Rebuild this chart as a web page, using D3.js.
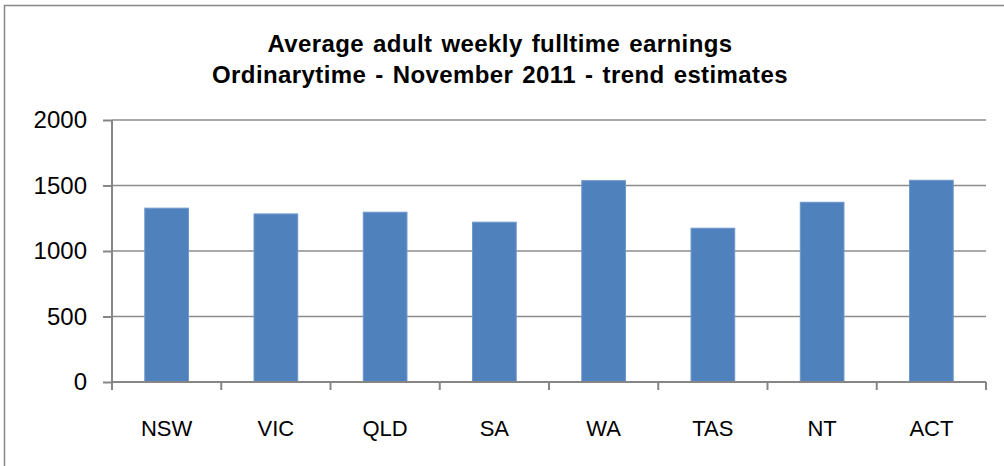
<!DOCTYPE html>
<meta charset="utf-8">
<style>
body { margin: 0; background: #fff; }
.title { font: bold 24px "Liberation Sans", Arial, sans-serif; fill: #000; letter-spacing: 0.4px; word-spacing: 2px; }
.axis text { font: 24px "Liberation Sans", Arial, sans-serif; fill: #000; }
.grid line { stroke: #8c8c8c; stroke-width: 1.5px; }
.axis path, .axis line { stroke: #868686; stroke-width: 2px; }
.bar { fill: #4f81bd; stroke: #6e98cb; stroke-width: 1px; }
</style>
<svg width="1004" height="466"></svg>
<script src="https://cdn.jsdelivr.net/npm/d3@7"></script>
<script>

var states = ["NSW", "VIC", "QLD", "SA", "WA", "TAS", "NT", "ACT"];
var earnings = [1327, 1283, 1296, 1220, 1537, 1174, 1372, 1540];
var yTicks = [0, 500, 1000, 1500, 2000];
var titleLines = ["Average adult weekly fulltime earnings",
                  "Ordinarytime - November 2011 - trend estimates"];

var svg = d3.select("svg");

// outer chart frame (right and bottom edges fall outside the picture)
svg.append("rect")
    .attr("x", 4.5).attr("y", 5.5)
    .attr("width", 1010).attr("height", 470)
    .attr("fill", "none")
    .attr("stroke", "#868686")
    .attr("stroke-width", 1.5);

var plotLeft = 112, plotRight = 986, plotTop = 120, plotBottom = 382;

var x = d3.scaleBand()
    .domain(states)
    .range([plotLeft, plotRight])
    .paddingInner(0.6)
    .paddingOuter(0.3);

var y = d3.scaleLinear()
    .domain([0, 2000])
    .range([plotBottom, plotTop]);

svg.append("g")
    .attr("class", "grid")
    .selectAll("line")
    .data(yTicks.slice(1))
    .enter().append("line")
      .attr("x1", plotLeft).attr("x2", plotRight)
      .attr("y1", function(d) { return y(d); })
      .attr("y2", function(d) { return y(d); });

svg.selectAll(".bar")
    .data(earnings)
    .enter().append("rect")
      .attr("class", "bar")
      .attr("x", function(d, i) { return x(states[i]); })
      .attr("width", x.bandwidth())
      .attr("y", function(d) { return y(d); })
      .attr("height", function(d) { return y(0) - y(d); });

var yAxis = svg.append("g")
    .attr("class", "axis")
    .attr("transform", "translate(" + plotLeft + ",0)")
    .call(d3.axisLeft(y).tickValues(yTicks).tickFormat(d3.format("d"))
      .tickSize(9).tickSizeOuter(0).tickPadding(16));
yAxis.select(".domain").attr("d", "M0," + plotTop + "V" + plotBottom);

// x axis: ticks sit on the category boundaries, labels centred on the bars
var xAxis = svg.append("g")
    .attr("class", "axis")
    .attr("transform", "translate(0," + plotBottom + ")");
xAxis.append("path")
    .attr("d", "M" + plotLeft + ",0H" + plotRight);
xAxis.selectAll("line")
    .data(d3.range(states.length + 1))
    .enter().append("line")
      .attr("x1", function(i) { return plotLeft + i * x.step(); })
      .attr("x2", function(i) { return plotLeft + i * x.step(); })
      .attr("y1", 0).attr("y2", 8);
xAxis.selectAll("text")
    .data(states)
    .enter().append("text")
      .attr("x", function(d) { return x(d) + x.bandwidth() / 2; })
      .attr("y", 54)
      .attr("text-anchor", "middle")
      .style("font-size", "22px")
      .text(function(d) { return d; });

svg.selectAll(".title")
    .data(titleLines)
    .enter().append("text")
      .attr("class", "title")
      .attr("x", 500)
      .attr("y", function(d, i) { return 52 + i * 31; })
      .attr("text-anchor", "middle")
      .text(function(d) { return d; });

</script>
